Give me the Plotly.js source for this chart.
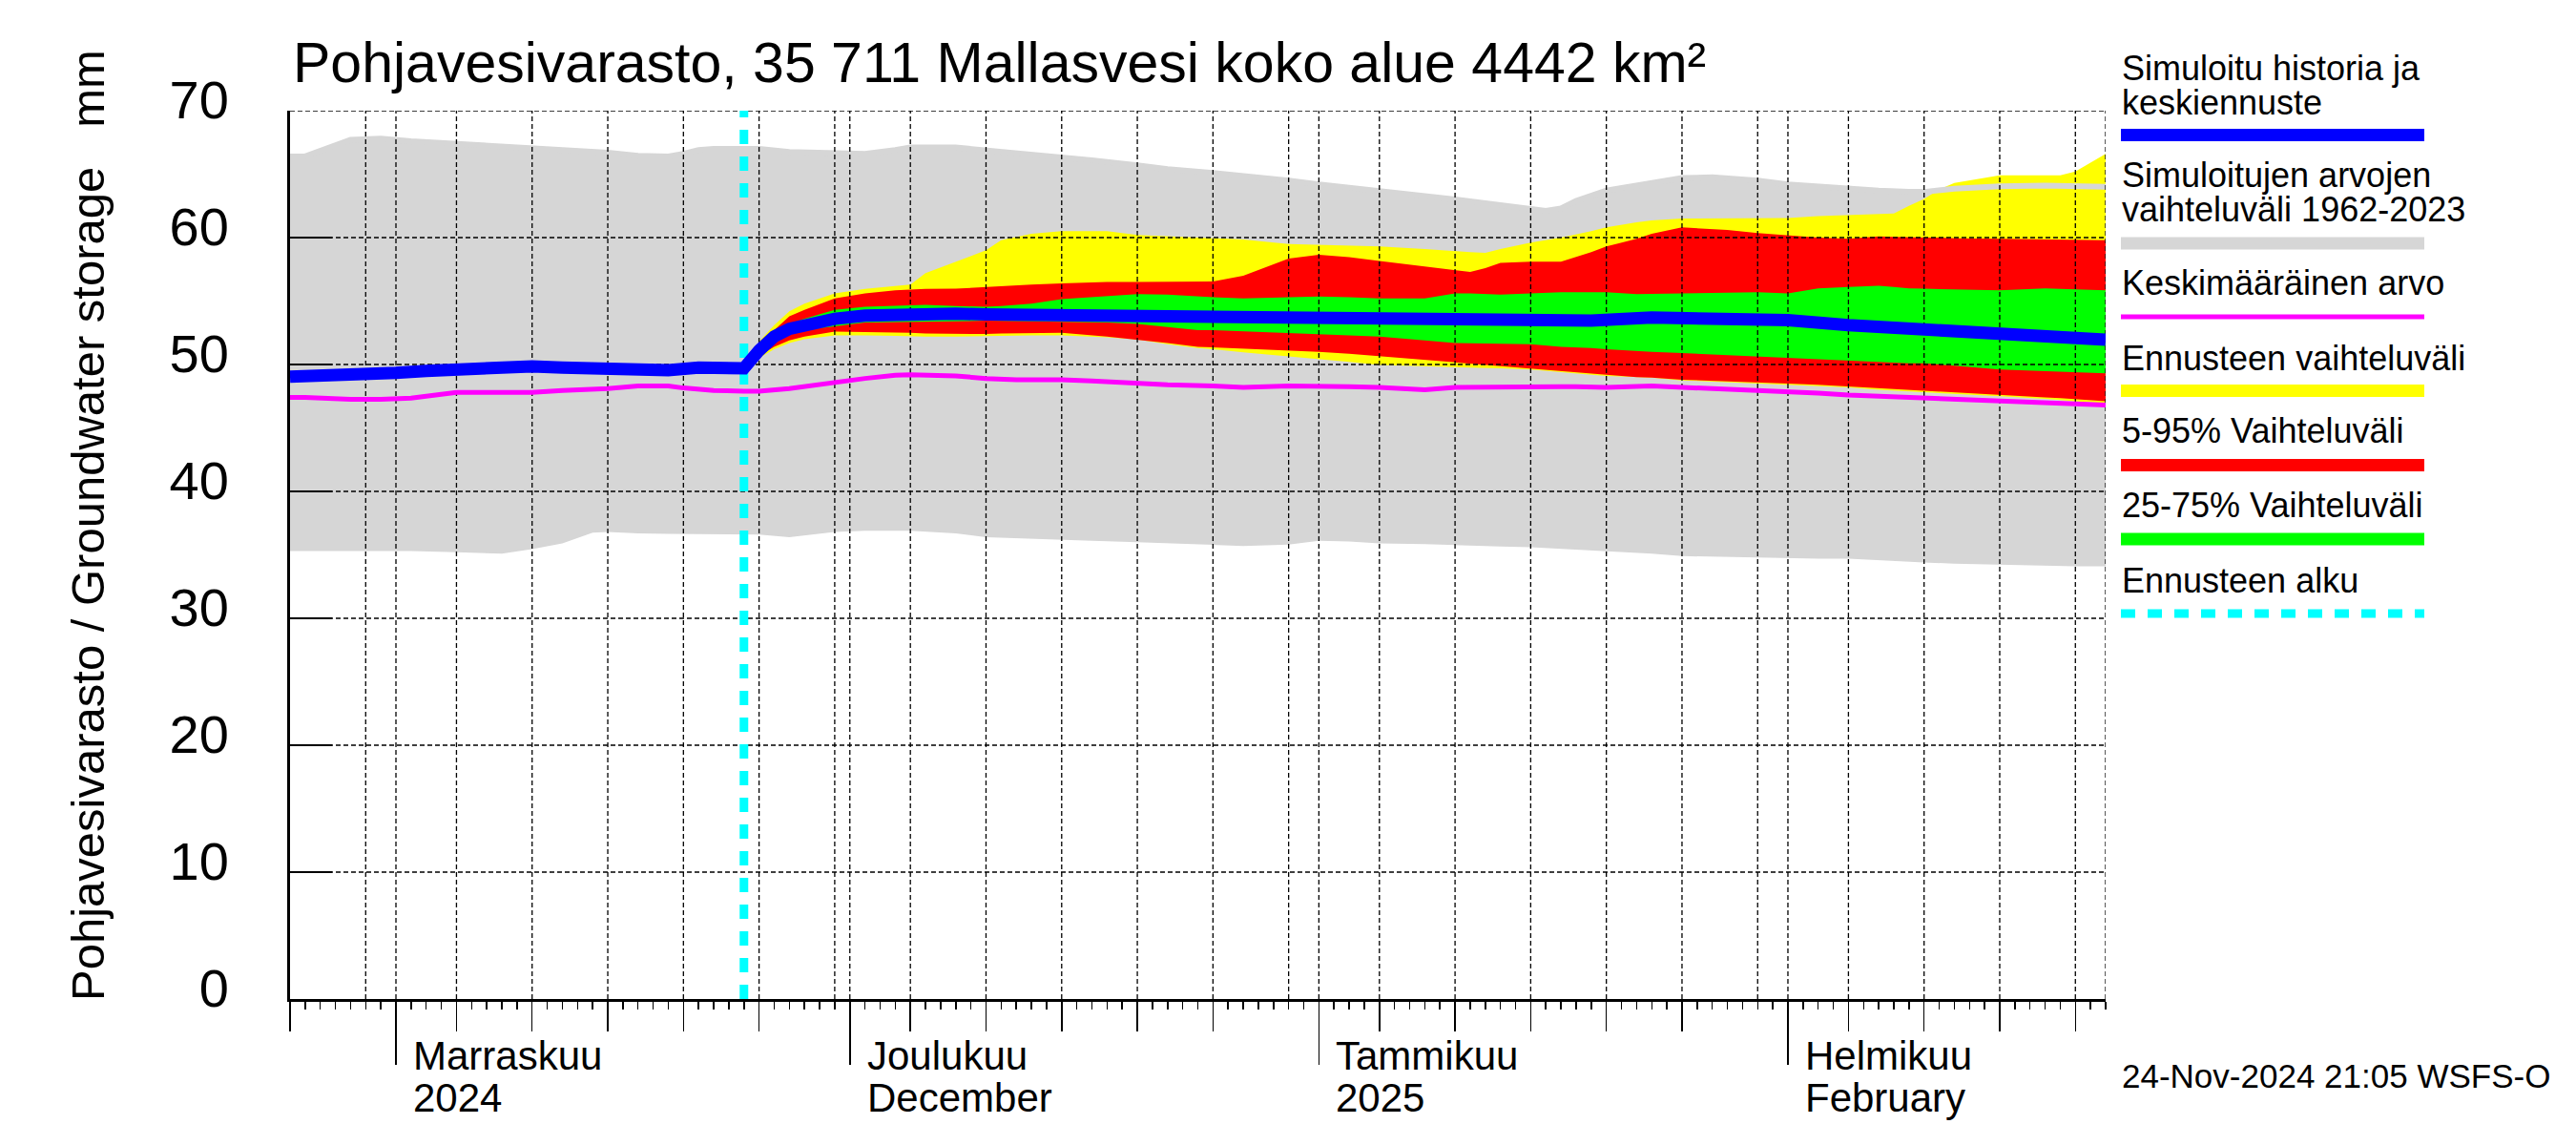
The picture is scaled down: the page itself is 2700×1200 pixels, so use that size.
<!DOCTYPE html>
<html><head><meta charset="utf-8">
<script src="https://cdn.plot.ly/plotly-3.0.1.min.js"></script>
<style>html,body{margin:0;padding:0;background:#fff}#chart{width:2700px;height:1200px}</style>
</head><body><div id="chart"></div>
<script>
// ---------------- DATA ----------------
const histDates = ['2024-10-25','2024-10-26','2024-10-29','2024-10-31','2024-11-02','2024-11-05','2024-11-08','2024-11-10','2024-11-12','2024-11-14','2024-11-15','2024-11-17','2024-11-19','2024-11-20','2024-11-21','2024-11-22','2024-11-24','2024-11-25','2024-11-27','2024-11-30','2024-12-02','2024-12-04','2024-12-05','2024-12-08','2024-12-10','2024-12-12','2024-12-15','2024-12-17','2024-12-20','2024-12-22','2024-12-25','2024-12-27','2024-12-30','2025-01-01','2025-01-03','2025-01-05','2025-01-08','2025-01-10','2025-01-13','2025-01-15','2025-01-16','2025-01-17','2025-01-18','2025-01-20','2025-01-23','2025-01-25','2025-01-27','2025-01-30','2025-02-01','2025-02-03','2025-02-05','2025-02-07','2025-02-09','2025-02-10','2025-02-12','2025-02-15','2025-02-18','2025-02-20','2025-02-22'];
const histMax = [66.4,66.4,67.7,67.8,67.6,67.4,67.2,67.0,66.9,66.75,66.7,66.45,66.4,66.6,66.9,67.0,67.0,67.0,66.75,66.7,66.6,66.9,67.1,67.1,66.9,66.65,66.4,66.1,65.7,65.4,65.1,64.9,64.5,64.2,63.95,63.7,63.3,63.0,62.55,62.2,62.1,62.3,62.9,63.7,64.3,64.7,64.75,64.5,64.2,64.0,63.8,63.7,63.6,63.6,63.85,64.05,64.1,64.1,64.0];
const histMin = [35.3,35.3,35.3,35.3,35.3,35.2,35.1,35.45,35.9,36.75,36.8,36.7,36.65,36.6,36.6,36.6,36.6,36.6,36.4,36.8,36.9,36.9,36.9,36.7,36.4,36.3,36.2,36.1,36.0,35.9,35.8,35.7,35.8,36.1,36.05,35.9,35.85,35.8,35.65,35.6,35.55,35.5,35.45,35.3,35.1,34.9,34.85,34.8,34.75,34.7,34.7,34.6,34.45,34.4,34.3,34.2,34.15,34.1,34.1];
const meanVals = [47.4,47.4,47.25,47.25,47.35,47.8,47.8,47.8,47.95,48.05,48.1,48.3,48.3,48.15,48.05,47.95,47.9,47.9,48.1,48.6,48.9,49.15,49.2,49.1,48.9,48.8,48.8,48.7,48.5,48.4,48.3,48.2,48.3,48.3,48.25,48.2,48.0,48.2,48.25,48.3,48.3,48.25,48.25,48.2,48.3,48.2,48.1,48.0,47.9,47.75,47.6,47.5,47.4,47.4,47.25,47.1,47.0,46.9,46.8];

const blueDates = ['2024-10-25','2024-10-28','2024-10-30','2024-11-01','2024-11-03','2024-11-05','2024-11-08','2024-11-10','2024-11-12','2024-11-15','2024-11-17','2024-11-19','2024-11-21','2024-11-24','2024-11-25','2024-11-26','2024-11-27','2024-11-28','2024-11-30','2024-12-02','2024-12-05','2024-12-08','2024-12-10','2024-12-15','2024-12-20','2024-12-25','2024-12-30','2025-01-01','2025-01-05','2025-01-10','2025-01-15','2025-01-19','2025-01-23','2025-01-25','2025-01-30','2025-02-01','2025-02-05','2025-02-10','2025-02-15','2025-02-20','2025-02-22'];
const blueVals = [49.05,49.1,49.15,49.35,49.5,49.65,49.85,49.85,49.75,49.6,49.5,49.55,49.75,49.7,51.1,52.2,52.8,53.1,53.6,53.85,54.0,54.0,53.95,53.9,53.8,53.8,53.85,53.7,53.8,53.6,53.5,53.45,53.7,53.7,53.6,53.5,53.1,52.8,52.4,52.0,51.95];

const fcDates = ['2024-11-24','2024-11-25','2024-11-26','2024-11-27','2024-11-28','2024-11-30','2024-12-02','2024-12-04','2024-12-05','2024-12-06','2024-12-08','2024-12-10','2024-12-11','2024-12-13','2024-12-15','2024-12-18','2024-12-20','2024-12-22','2024-12-24','2024-12-25','2024-12-27','2024-12-30','2025-01-01','2025-01-03','2025-01-05','2025-01-08','2025-01-10','2025-01-11','2025-01-12','2025-01-13','2025-01-15','2025-01-17','2025-01-19','2025-01-20','2025-01-22','2025-01-23','2025-01-25','2025-01-28','2025-01-30','2025-02-01','2025-02-03','2025-02-05','2025-02-07','2025-02-08','2025-02-09','2025-02-10','2025-02-11','2025-02-12','2025-02-15','2025-02-18','2025-02-19','2025-02-20','2025-02-21','2025-02-22'];
const fcMax = [49.7,51.8,53.1,54.2,54.8,55.6,55.95,56.15,56.3,57.2,58.1,59.0,59.8,60.3,60.5,60.5,60.2,60.1,60.05,60.0,59.85,59.5,59.45,59.35,59.3,59.1,58.9,58.85,58.8,59.1,59.6,60.0,60.5,60.8,61.2,61.35,61.5,61.5,61.5,61.55,61.7,61.8,61.85,61.9,62.5,63.05,63.8,64.3,64.9,64.9,64.9,65.2,65.9,66.6];
const fc95 = [49.7,51.6,52.7,53.8,54.3,55.2,55.6,55.85,55.9,55.95,55.97,56.1,56.2,56.3,56.4,56.5,56.5,56.5,56.5,56.55,57.0,58.35,58.65,58.45,58.15,57.7,57.4,57.3,57.6,58.0,58.1,58.1,58.85,59.3,59.9,60.3,60.8,60.6,60.35,60.15,60.0,59.9,60.1,60.05,60.0,60.0,60.0,59.95,59.9,59.85,59.85,59.85,59.8,59.8];
const fc75 = [49.7,51.3,52.4,53.2,53.6,54.3,54.55,54.65,54.7,54.7,54.6,54.55,54.6,54.8,55.15,55.4,55.55,55.5,55.35,55.3,55.2,55.3,55.35,55.3,55.2,55.2,55.6,55.6,55.55,55.5,55.6,55.7,55.7,55.7,55.55,55.55,55.6,55.65,55.7,55.6,56.0,56.1,56.2,56.1,56.0,55.97,55.95,55.9,55.85,56.0,55.95,55.9,55.85,55.85];
const fc25 = [49.7,50.9,51.9,52.4,52.7,53.0,53.3,53.35,53.35,53.35,53.4,53.45,53.45,53.4,53.35,53.3,53.2,52.95,52.7,52.7,52.6,52.5,52.4,52.3,52.2,51.9,51.7,51.7,51.65,51.65,51.6,51.4,51.3,51.2,51.05,51.0,50.9,50.75,50.6,50.5,50.4,50.3,50.2,50.15,50.1,50.1,50.0,49.9,49.6,49.5,49.45,49.4,49.35,49.3];
const fc5 = [49.7,50.7,51.4,51.9,52.2,52.6,52.55,52.5,52.5,52.45,52.4,52.4,52.45,52.5,52.5,52.2,51.97,51.7,51.4,51.3,51.25,51.1,51.0,50.85,50.7,50.4,50.2,50.1,50.0,49.9,49.7,49.5,49.3,49.2,49.0,48.96,48.8,48.7,48.6,48.5,48.4,48.3,48.15,48.1,48.0,47.96,47.9,47.85,47.6,47.4,47.35,47.3,47.2,47.1];
const fcMin = [49.7,50.5,51.2,51.7,52.0,52.3,52.3,52.25,52.2,52.2,52.2,52.2,52.25,52.3,52.3,52.15,51.97,51.6,51.3,51.2,50.95,50.6,50.4,50.2,49.96,49.85,49.8,49.75,49.7,49.7,49.6,49.4,49.2,49.1,49.0,48.96,48.75,48.65,48.5,48.45,48.3,48.2,48.0,47.95,47.85,47.8,47.75,47.7,47.5,47.3,47.2,47.1,47.0,46.95];

const forecastStart = '2024-11-24';
const monthStarts = ['2024-11-01','2024-12-01','2025-01-01','2025-02-01'];
const monthLabelFi = ['Marraskuu','Joulukuu','Tammikuu','Helmikuu'];
const monthLabel2 = ['2024','December','2025','February'];
const yTicks = [0,10,20,30,40,50,60,70];

const titleText = 'Pohjavesivarasto, 35 711 Mallasvesi koko alue 4442 km²';
const yTitleText = 'Pohjavesivarasto / Groundwater storage\u00A0\u00A0\u00A0mm';
const stampText = '24-Nov-2024 21:05 WSFS-O';
const legendItems = [
  {lines:['Simuloitu historia ja','keskiennuste'], color:'#0000ff', width:13, dash:'solid'},
  {lines:['Simuloitujen arvojen','vaihteluväli 1962-2023'], color:'#d6d6d6', width:13, dash:'solid'},
  {lines:['Keskimääräinen arvo'], color:'#ff00ff', width:5, dash:'solid'},
  {lines:['Ennusteen vaihteluväli'], color:'#ffff00', width:13, dash:'solid'},
  {lines:['5-95% Vaihteluväli'], color:'#ff0000', width:13, dash:'solid'},
  {lines:['25-75% Vaihteluväli'], color:'#00ff00', width:13, dash:'solid'},
  {lines:['Ennusteen alku'], color:'#00ffff', width:9, dash:'15px,13px'}
];

// ---------------- GEOMETRY ----------------
const W = 2700, H = 1200;
const L = 304, R = 2207, T = 116, B = 1047;
const xStart = '2024-10-25', xEnd = '2025-02-22';
const FONT = 'Liberation Sans, Arial, Helvetica, sans-serif';
const pxX = x => (x - L) / (R - L);
const pxY = y => (B - y) / (B - T);

const GRAY = '#d6d6d6';

// grid / tick dates
const iso = t => new Date(t).toISOString().slice(0,10);
const gridDates = [], midTicks = [];
for (let t = Date.UTC(2024,9,25); t <= Date.UTC(2025,1,22); t += 864e5) {
  const d = new Date(t).getUTCDate();
  if ([1,5,10,15,20,25,30].includes(d) && t > Date.UTC(2024,9,25)) gridDates.push(iso(t));
  if ([5,10,15,20,25].includes(d)) midTicks.push(iso(t));
}
gridDates.push(xEnd);

function band(xs, hi, lo, color) {
  return {x: xs.concat(xs.slice().reverse()), y: hi.concat(lo.slice().reverse()),
    type:'scatter', mode:'lines', fill:'toself', fillcolor:color,
    line:{width:0, color:color}, hoverinfo:'skip', showlegend:false};
}
const vgx = [], vgy = [];
gridDates.forEach(d => { vgx.push(d, d, null); vgy.push(0, 70, null); });
const hgx = [], hgy = [];
yTicks.filter(v => v > 0).forEach(v => { hgx.push(xStart, xEnd, null); hgy.push(v, v, null); });

const traces = [
  band(histDates, histMax, histMin, GRAY),
  band(fcDates, fcMax, fcMin, '#ffff00'),
  band(fcDates, fc95, fc5, '#ff0000'),
  band(fcDates, fc75, fc25, '#00ff00'),
  {x: histDates, y: histMax, type:'scatter', mode:'lines', line:{color:GRAY, width:6}, hoverinfo:'skip', showlegend:false},
  {x: hgx, y: hgy, type:'scatter', mode:'lines', line:{color:'#000', width:1.3, dash:'5px,3px'}, hoverinfo:'skip', showlegend:false},
  {x: vgx, y: vgy, type:'scatter', mode:'lines', line:{color:'#000', width:1.3, dash:'5px,3px'}, hoverinfo:'skip', showlegend:false},
  {x: histDates, y: meanVals, type:'scatter', mode:'lines', line:{color:'#ff00ff', width:5}, hoverinfo:'skip', showlegend:false},
  {x: [forecastStart, forecastStart], y: [0, 70], type:'scatter', mode:'lines', line:{color:'#00ffff', width:9, dash:'15px,13px'}, hoverinfo:'skip', showlegend:false},
  {x: blueDates, y: blueVals, type:'scatter', mode:'lines', line:{color:'#0000ff', width:13}, hoverinfo:'skip', showlegend:false},
  {x: [], y: [], xaxis:'x2', yaxis:'y', type:'scatter', mode:'lines', showlegend:false},
  {x: [], y: [], xaxis:'x3', yaxis:'y', type:'scatter', mode:'lines', showlegend:false}
];

// ---------------- ANNOTATIONS & SHAPES ----------------
const annotations = [];
const shapes = [];
annotations.push({text:titleText, xref:'paper', yref:'paper', x:pxX(305), y:pxY(66), xanchor:'left', yanchor:'middle', showarrow:false, font:{family:FONT, size:59, color:'#000'}});
annotations.push({text:yTitleText, xref:'paper', yref:'paper', x:pxX(92), y:pxY(551), xanchor:'center', yanchor:'middle', textangle:-90, showarrow:false, font:{family:FONT, size:49, color:'#000'}});
annotations.push({text:stampText, xref:'paper', yref:'paper', x:pxX(2222), y:pxY(1127), xanchor:'left', yanchor:'middle', showarrow:false, font:{family:FONT, size:35, color:'#000'}});
monthStarts.forEach((m, i) => {
  annotations.push({text:monthLabelFi[i], xref:'x', yref:'paper', x:m, xshift:16, y:pxY(1106.5), xanchor:'left', yanchor:'middle', showarrow:false, font:{family:FONT, size:42, color:'#000'}});
  annotations.push({text:monthLabel2[i], xref:'x', yref:'paper', x:m, xshift:16, y:pxY(1150.5), xanchor:'left', yanchor:'middle', showarrow:false, font:{family:FONT, size:42, color:'#000'}});
});
// legend layout
const legTextY = [[71.5,107.5],[183.5,219.5],[296.5],[375],[451.5],[529.5],[608]];
const legLineY = [141.5, 255, 332, 409.5, 487.5, 565, 643];
legendItems.forEach((it, i) => {
  it.lines.forEach((ln, j) => {
    annotations.push({text:ln, xref:'paper', yref:'paper', x:pxX(2222), y:pxY(legTextY[i][j]), xanchor:'left', yanchor:'middle', showarrow:false, font:{family:FONT, size:36, color:'#000'}});
  });
  shapes.push({type:'line', xref:'paper', yref:'paper', x0:pxX(2223), x1:pxX(2541), y0:pxY(legLineY[i]), y1:pxY(legLineY[i]), line:{color:it.color, width:it.width, dash:it.dash}});
});

const layout = {
  width: W, height: H,
  margin: {l:L, r:W-R, t:T, b:H-B, pad:0},
  paper_bgcolor:'#ffffff', plot_bgcolor:'#ffffff',
  showlegend:false,
  font:{family:FONT, color:'#000'},
  xaxis: {type:'date', range:[xStart, xEnd], showgrid:false, zeroline:false, showline:true, linecolor:'#000', linewidth:3,
    ticks:'outside', tickmode:'linear', tick0:xStart, dtick:86400000, ticklen:8, tickwidth:1.5, tickcolor:'#000',
    showticklabels:false, layer:'above traces', fixedrange:true},
  xaxis2: {type:'date', overlaying:'x', anchor:'y', side:'bottom', range:[xStart, xEnd], showgrid:false, zeroline:false, showline:false,
    ticks:'outside', tickmode:'array', tickvals:midTicks, ticklen:33, tickwidth:1.5, tickcolor:'#000', showticklabels:false, fixedrange:true},
  xaxis3: {type:'date', overlaying:'x', anchor:'y', side:'bottom', range:[xStart, xEnd], showgrid:false, zeroline:false, showline:false,
    ticks:'outside', tickmode:'array', tickvals:monthStarts, ticklen:68, tickwidth:1.5, tickcolor:'#000', showticklabels:false, fixedrange:true},
  yaxis: {range:[0,70], tickmode:'array', tickvals:yTicks, ticks:'inside', ticklen:44, tickwidth:2, tickcolor:'#000',
    showline:true, linewidth:3, linecolor:'#000', showgrid:false, zeroline:false,
    tickfont:{family:FONT, size:56, color:'#000'}, ticklabelstandoff:50, ticklabelshift:-12, layer:'above traces', fixedrange:true},
  annotations: annotations,
  shapes: shapes
};

Plotly.newPlot('chart', traces, layout, {staticPlot:true, displayModeBar:false});
</script>
</body></html>
